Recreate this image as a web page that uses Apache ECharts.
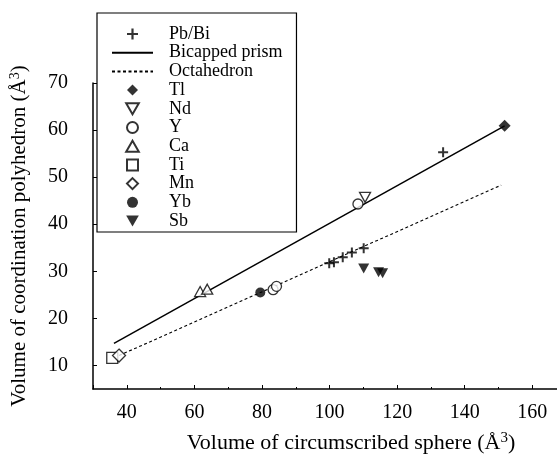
<!DOCTYPE html>
<html>
<head>
<meta charset="utf-8">
<script src="https://cdn.jsdelivr.net/npm/echarts@6/dist/echarts.min.js"></script>
<style>
  html, body { margin: 0; padding: 0; background: #fff; }
  #chart { width: 557px; height: 461px; }
</style>
</head>
<body>
<div id="chart"></div>
<script>
// data: [sphere volume, polyhedron volume]
const pbBi = [[133.6, 55.3], [99.9, 31.7], [101.3, 31.9], [103.9, 33.0], [106.6, 34.0], [110.1, 34.9]];
const bicappedPrism = [[36.2, 14.7], [151.8, 60.9]];
const octahedron = [[37.7, 12.1], [150.8, 48.3]];
const tl = [[151.8, 60.9]];
const nd = [[110.5, 45.7]];
const yPts = [[108.4, 44.3], [83.3, 26.1], [84.3, 26.8]];
const ca = [[61.7, 25.7], [63.8, 26.2]];
const ti = [[35.7, 11.6]];
const mn = [[37.7, 12.1]];
const yb = [[79.5, 25.5]];
const sb = [[110.1, 30.6], [114.5, 29.8], [115.7, 29.6]];

const legendNames = ['Pb/Bi', 'Bicapped prism', 'Octahedron', 'Tl', 'Nd', 'Y', 'Ca', 'Ti', 'Mn', 'Yb', 'Sb'];

const FONT = 'Liberation Serif';
const PLUS = 'path://M4,0H6V4H10V6H6V10H4V6H0V4H4Z';
const TRI_DOWN = 'path://M0,0L10,0L5,8.7Z';
const TRI_UP = 'path://M5,0L10,8.7L0,8.7Z';
const DIAMOND = 'path://M5,0L10,5L5,10L0,5Z';
const SQUARE = 'path://M0,0H10V10H0Z';

const filled = { color: '#000' };
const open = { color: '#fff', borderColor: '#000', borderWidth: 1.3 };

function scatter(name, data, symbol, size, style) {
  return { name: name, type: 'scatter', data: data, symbol: symbol, symbolSize: size, itemStyle: style, z: 3 };
}

const chart = echarts.init(document.getElementById('chart'));

const option = {
  backgroundColor: '#fff',
  animation: false,
  textStyle: { fontFamily: FONT, color: '#000' },
  grid: { left: 89, right: 0, top: 83, bottom: 72 },
  legend: {
    data: legendNames,
    orient: 'vertical',
    left: 97, top: 13,
    padding: [12, 14, 2, 14],
    itemWidth: 41, itemHeight: 11, itemGap: 0.7,
    borderColor: '#000', borderWidth: 1.2,
    backgroundColor: '#fff',
    selectedMode: false,
    textStyle: { fontFamily: FONT, fontSize: 18, color: '#000', lineHeight: 16, padding: [0, 0, 0, 11] }
  },
  xAxis: {
    type: 'value', min: 30, max: 167.3, splitNumber: 7,
    name: 'Volume of circumscribed sphere (Å{s|3})',
    nameLocation: 'middle', nameGap: 42,
    nameTextStyle: {
      fontFamily: FONT, fontSize: 22, color: '#000', padding: [0, 0, 0, 52],
      rich: { s: { fontFamily: FONT, fontSize: 15, color: '#000', padding: [0, 0, 9, 0] } }
    },
    axisLine: { lineStyle: { color: '#000', width: 1.5 } },
    axisTick: { inside: true, length: 4, lineStyle: { color: '#000' } },
    minorTick: { show: true, splitNumber: 2, length: 2, lineStyle: { color: '#000' } },
    axisLabel: { fontFamily: FONT, fontSize: 20, color: '#000', margin: 14, showMinLabel: false, showMaxLabel: false },
    splitLine: { show: false }
  },
  yAxis: {
    type: 'value', min: 5, max: 70, splitNumber: 6,
    name: 'Volume of coordination polyhedron (Å{s|3})',
    nameLocation: 'middle', nameGap: 62,
    nameTextStyle: {
      fontFamily: FONT, fontSize: 21, color: '#000',
      rich: { s: { fontFamily: FONT, fontSize: 14, color: '#000', padding: [0, 0, 9, 0] } }
    },
    axisLine: { lineStyle: { color: '#000', width: 1.5 } },
    axisTick: { inside: true, length: 4, lineStyle: { color: '#000' } },
    axisLabel: { fontFamily: FONT, fontSize: 20, color: '#000', margin: 25, showMinLabel: false },
    splitLine: { show: false }
  },
  series: [
    scatter('Pb/Bi', pbBi, PLUS, 10, filled),
    {
      name: 'Bicapped prism', type: 'line', data: bicappedPrism, symbol: 'circle', showSymbol: false, z: 1,
      lineStyle: { color: '#000', width: 1.5 }, itemStyle: { color: 'rgba(0,0,0,0)' }
    },
    {
      name: 'Octahedron', type: 'line', data: octahedron, symbol: 'circle', showSymbol: false, z: 1,
      lineStyle: { color: '#000', width: 1.1, type: [3, 2.5] }, itemStyle: { color: 'rgba(0,0,0,0)' }
    },
    scatter('Tl', tl, DIAMOND, [12, 12], filled),
    scatter('Nd', nd, TRI_DOWN, [11, 10], open),
    scatter('Y', yPts, 'circle', 10, open),
    scatter('Ca', ca, TRI_UP, [11, 10], open),
    scatter('Ti', ti, SQUARE, 11, open),
    scatter('Mn', mn, DIAMOND, [13, 13], open),
    scatter('Yb', yb, 'circle', 10, filled),
    scatter('Sb', sb, TRI_DOWN, [11, 10], filled)
  ]
};

chart.setOption(option);
</script>
</body>
</html>
